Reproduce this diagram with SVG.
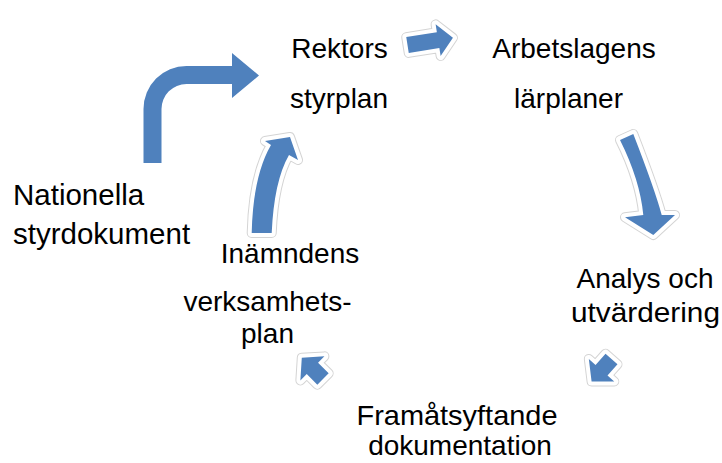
<svg xmlns="http://www.w3.org/2000/svg" xmlns:xlink="http://www.w3.org/1999/xlink" width="722" height="463" viewBox="0 0 722 463">
<style>
text{font-family:"Liberation Sans",Arial,sans-serif;font-size:28px;fill:#000}
.c{text-anchor:middle}
.blue{fill:#4F81BD}
.halo1{fill:none;stroke:#d4d4d4;stroke-width:10;stroke-linejoin:round}
.halo2{fill:none;stroke:#ffffff;stroke-width:8;stroke-linejoin:round}
</style>
<defs>
<path id="stub" d="M0,-8 L15,-8 L15,-17 L30,0 L15,17 L15,8 L0,8 Z"/>
<path id="right" d="M0,-8 L31,-8 L31,-16 L46,0 L31,16 L31,8 L0,8 Z"/>
<path id="curveDown" d="M620,140 Q640,180 643.3,215 L625,217.3 L653.3,235 L675,215 L661.7,215 Q655,190 633.3,134 Z"/>
<path id="curveUp" d="M251.7,233 Q253,176 271,145 L265,141 L290,137 L298,160 L289,155 Q274,181 271.7,233 Z"/>
</defs>
<g id="connectors">
<g id="arrow-national">
<path class="blue" d="M143.5,163 L143.5,109 A43,43 0 0 1 186.5,66 L232,66 L232,53 L259,75.5 L232,98 L232,84 L186.5,84 A25,25 0 0 0 161.5,109 L161.5,163 Z"/>
</g>
<g id="arrow-rektor-arbetslag" transform="translate(407.5,45) rotate(-9)">
<use xlink:href="#right" class="halo1"/><use xlink:href="#right" class="halo2"/><use xlink:href="#right" class="blue"/>
</g>
<g id="arrow-arbetslag-analys">
<use xlink:href="#curveDown" class="halo1"/><use xlink:href="#curveDown" class="halo2"/><use xlink:href="#curveDown" class="blue"/>
</g>
<g id="arrow-analys-framat" transform="translate(611.5,359) rotate(131.6)">
<use xlink:href="#stub" class="halo1"/><use xlink:href="#stub" class="halo2"/><use xlink:href="#stub" class="blue"/>
</g>
<g id="arrow-framat-namnd" transform="translate(323,379) rotate(-135)">
<use xlink:href="#stub" class="halo1"/><use xlink:href="#stub" class="halo2"/><use xlink:href="#stub" class="blue"/>
</g>
<g id="arrow-namnd-rektor">
<use xlink:href="#curveUp" class="halo1"/><use xlink:href="#curveUp" class="halo2"/><use xlink:href="#curveUp" class="blue"/>
</g>
</g>
<g id="node-rektor">
<text class="c" x="339.5" y="58">Rektors</text>
<text class="c" x="339" y="108">styrplan</text>
</g>
<g id="node-arbetslag">
<text class="c" x="574" y="58">Arbetslagens</text>
<text class="c" x="568.5" y="108">lärplaner</text>
</g>
<g id="node-nationella">
<text x="13" y="205" style="font-size:29.5px">Nationella</text>
<text x="13" y="244" style="font-size:29.5px">styrdokument</text>
</g>
<g id="node-analys">
<text class="c" x="645" y="288">Analys och</text>
<text class="c" x="645.5" y="322" textLength="149" lengthAdjust="spacingAndGlyphs">utvärdering</text>
</g>
<g id="node-framat">
<text class="c" x="457" y="425" textLength="201" lengthAdjust="spacingAndGlyphs">Framåtsyftande</text>
<text class="c" x="460" y="455">dokumentation</text>
</g>
<g id="node-namnd">
<text class="c" x="290" y="263">Inämndens</text>
<text class="c" x="267.5" y="311">verksamhets-</text>
<text class="c" x="267.5" y="343">plan</text>
</g>
</svg>
